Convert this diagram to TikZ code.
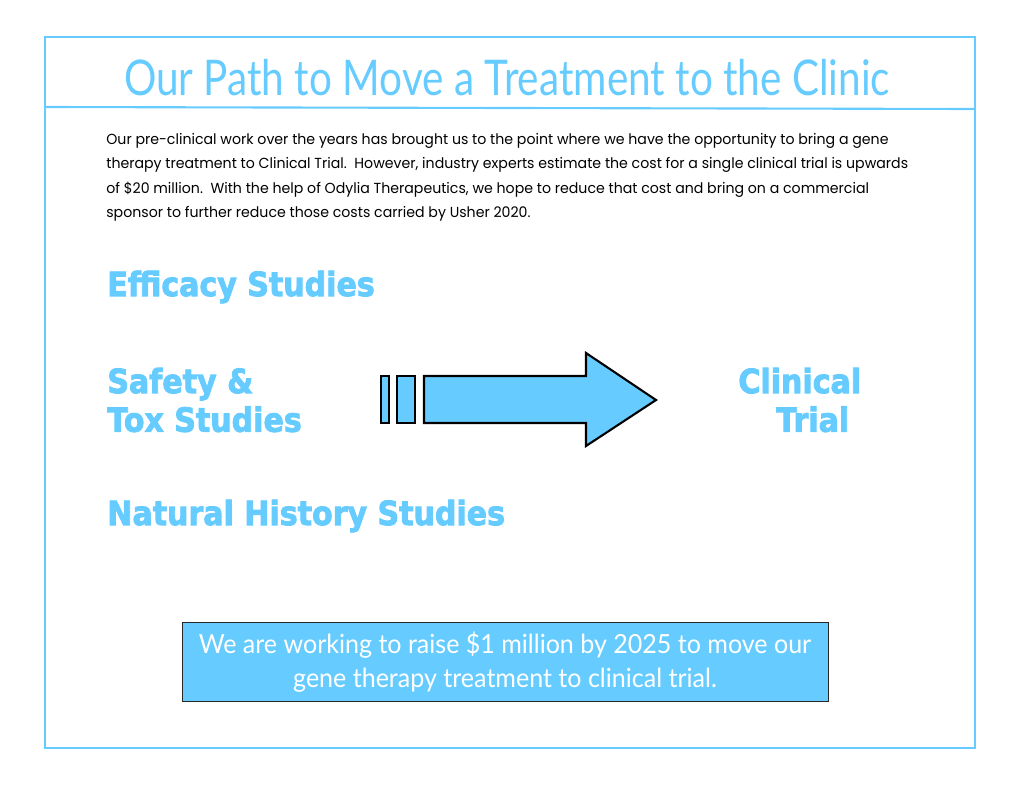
\documentclass[tikz,border=0pt]{standalone}
\usepackage{fontspec}
\setmainfont{Lato}
\newfontfamily\titlefont[FakeStretch=0.823]{Lato}
\newfontfamily\goalfont[FakeStretch=0.95]{Lato}
\newfontfamily\bodyfont[FakeStretch=0.97]{Poppins}
\newfontfamily\headfont[FakeStretch=0.9, FakeBold=2.5]{DejaVu Sans}
\usetikzlibrary{positioning}
\definecolor{skyblue}{RGB}{102, 204, 255}
\definecolor{framedark}{RGB}{40, 40, 40}

\begin{document}
\begin{tikzpicture}[
  x=0.02cm, y=-0.02cm,
  heading/.style={anchor=west, inner sep=0pt, text=skyblue, font=\headfont\fontsize{19}{22}\selectfont\bfseries, align=left},
  arrowpart/.style={draw=black, fill=skyblue, line width=1.2pt, line join=miter},
  goal/.style={rectangle, draw=framedark, fill=skyblue, minimum width=646*0.02cm, minimum height=79*0.02cm,
    align=center, text=white, font=\goalfont\fontsize{15}{19.5}\selectfont}
]
  \useasboundingbox (0,0) rectangle (1024,791);
  \draw[skyblue, line width=1.2pt] (45,37) rectangle (975,748);
  \draw[skyblue, line width=1.2pt] (45,107) -- (975,109);

  \node[inner sep=0pt, text=skyblue, font=\titlefont\fontsize{28}{30}\selectfont] (title) at (507,78) {Our Path to Move a Treatment to the Clinic};

  \node[anchor=north west, inner sep=0pt, align=left, font=\bodyfont\fontsize{8.3}{13.9}\selectfont] (intro) at (106,133)
    {Our pre-clinical work over the years has brought us to the point where we have the opportunity to bring a gene\\
     therapy treatment to Clinical Trial.\ \ However, industry experts estimate the cost for a single clinical trial is upwards\\
     of \$20 million.\ \ With the help of Odylia Therapeutics, we hope to reduce that cost and bring on a commercial\\
     sponsor to further reduce those costs carried by Usher 2020.};

  \node[heading] (efficacy) at (107,287) {Efficacy Studies};
  \node[heading] (safety) at (107,400) {Safety \&\\Tox Studies};
  \node[heading] (natural) at (107,516) {Natural History Studies};
  \node[heading] (clinical) at (738,400) {Clinical\\\hspace*{0.76cm}Trial};

  % arrow pointing to the clinic
  \draw[arrowpart] (381,376) rectangle (389,423);
  \draw[arrowpart] (397,376) rectangle (415,423);
  \draw[arrowpart] (424,376) -- (586,376) -- (586,353) -- (656,400) -- (586,446) -- (586,423) -- (424,423) -- cycle;

  \node[goal] (raise) at (505,662) {We are working to raise \$1 million by 2025 to move our\\gene therapy treatment to clinical trial.};
\end{tikzpicture}
\end{document}
